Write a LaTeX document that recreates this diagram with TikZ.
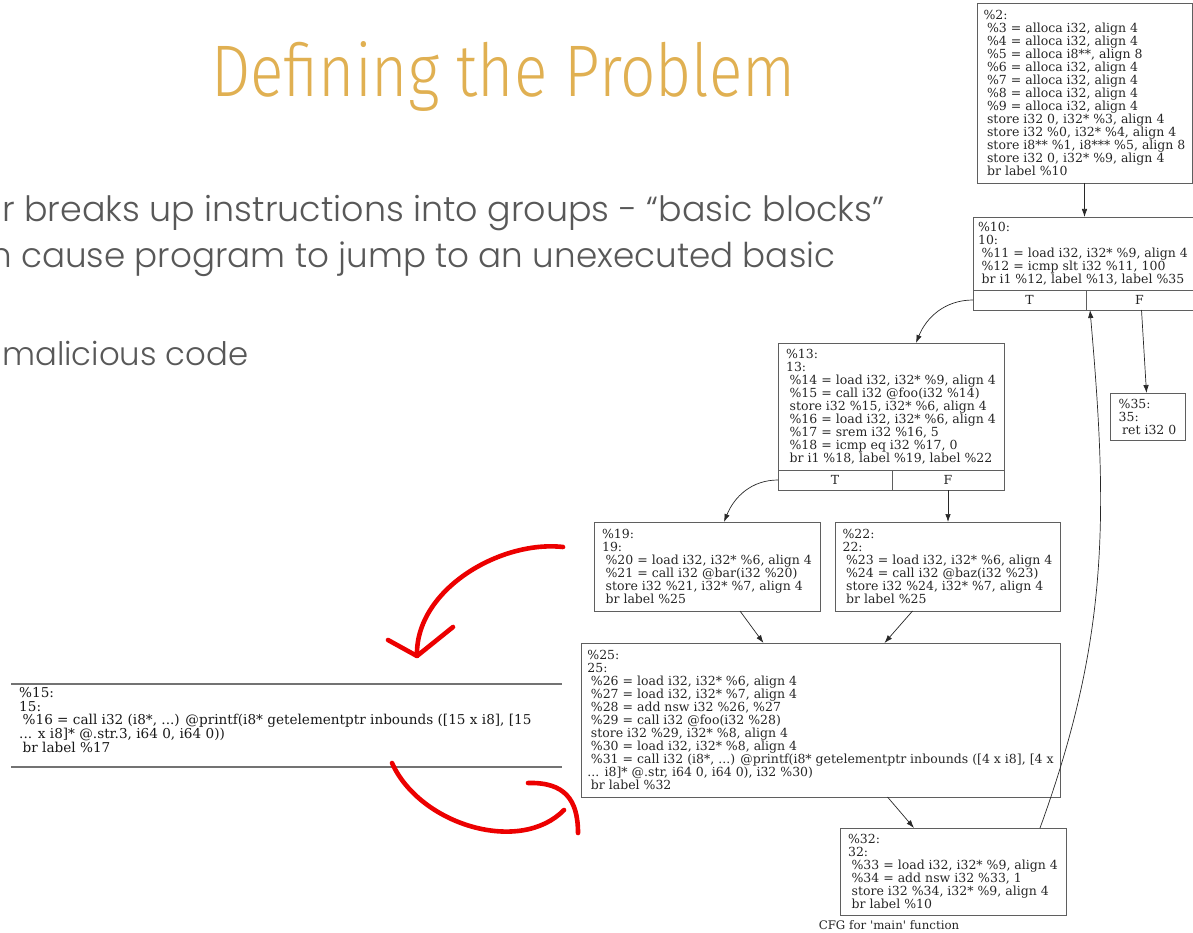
\documentclass[tikz,border=0pt]{standalone}
\usepackage{fontspec}
\usepackage{graphicx}
\usetikzlibrary{positioning,arrows.meta}

\setmainfont{DejaVu Serif}
\newfontfamily\cfgfont{DejaVu Serif}
\IfFontExistsTF{Fira Sans Light}{\newfontfamily\titlefont{Fira Sans Light}}{\newfontfamily\titlefont{Fira Sans}}
\IfFontExistsTF{Poppins Light}{\newfontfamily\slidefont{Poppins Light}}{\newfontfamily\slidefont{Poppins}}

\definecolor{titlegold}{RGB}{224,176,82}
\definecolor{slidegray}{RGB}{88,88,88}
\definecolor{boxgray}{RGB}{95,95,95}
\definecolor{edgegray}{RGB}{40,40,40}
\definecolor{markred}{RGB}{236,0,0}

\newcommand{\indt}{\hspace*{3.5pt}}

\tikzset{
  cfgblock/.style={draw=boxgray, line width=0.9pt, anchor=north west, align=left,
    font={\cfgfont\fontsize{12.5}{13}\selectfont}, text=black!85,
    inner xsep=3pt, inner ysep=3pt, outer sep=0pt},
  cfgcell/.style={draw=boxgray, line width=0.9pt, minimum height=20pt,
    font={\cfgfont\fontsize{12.5}{13}\selectfont}, text=black!85,
    inner sep=0pt, outer sep=0pt},
  cfgedge/.style={->, draw=edgegray, line width=0.7pt},
  slideline/.style={anchor=base west, inner sep=0pt, text=slidegray,
    font={\slidefont\fontsize{30}{36}\selectfont}},
  snippet/.style={anchor=north west, align=left, inner sep=0pt, text=black!90,
    font={\cfgfont\fontsize{13.6}{13.75}\selectfont}},
  snipline/.style={draw=black!55, line width=1.6pt},
  redmark/.style={draw=markred, line width=4.6pt, line cap=round, line join=round}
}

\begin{document}
\begin{tikzpicture}[x=1pt, y=-1pt, >={Latex[length=8pt,width=5.5pt]}]
\useasboundingbox (0,0) rectangle (1193,933);

\node[anchor=base west, inner sep=0pt, text=titlegold] (title) at (211,97)
  {\resizebox{584pt}{55pt}{\titlefont Defining the Problem}};
\node[slideline] (line1) at (2,222) {\resizebox{882pt}{!}{r breaks up instructions into groups - “basic blocks”}};
\node[slideline] (line2) at (-10,268) {\resizebox{845pt}{!}{n cause program to jump to an unexecuted basic}};
\node[slideline] (line3) at (2,365) {\resizebox{246pt}{!}{malicious code}};

\node[cfgblock, minimum width=215pt, minimum height=180pt] (b2) at (977,3)
  {\%2:\\
   \indt\%3 = alloca i32, align 4\\
   \indt\%4 = alloca i32, align 4\\
   \indt\%5 = alloca i8**, align 8\\
   \indt\%6 = alloca i32, align 4\\
   \indt\%7 = alloca i32, align 4\\
   \indt\%8 = alloca i32, align 4\\
   \indt\%9 = alloca i32, align 4\\
   \indt store i32 0, i32* \%3, align 4\\
   \indt store i32 \%0, i32* \%4, align 4\\
   \indt store i8** \%1, i8*** \%5, align 8\\
   \indt store i32 0, i32* \%9, align 4\\
   \indt br label \%10};

\node[cfgblock, minimum width=220pt, minimum height=73pt] (b10) at (973,217)
  {\%10:\\
   10:\\
   \indt\%11 = load i32, i32* \%9, align 4\\
   \indt\%12 = icmp slt i32 \%11, 100\\
   \indt br i1 \%12, label \%13, label \%35};
\node[cfgcell, minimum width=113pt] (t10) [below right=0pt of b10.south west] {T};
\node[cfgcell, minimum width=107pt] (f10) [right=0pt of t10] {F};

\node[cfgblock, minimum width=226pt, minimum height=127pt] (b13) at (778,343)
  {\%13:\\
   13:\\
   \indt\%14 = load i32, i32* \%9, align 4\\
   \indt\%15 = call i32 @foo(i32 \%14)\\
   \indt store i32 \%15, i32* \%6, align 4\\
   \indt\%16 = load i32, i32* \%6, align 4\\
   \indt\%17 = srem i32 \%16, 5\\
   \indt\%18 = icmp eq i32 \%17, 0\\
   \indt br i1 \%18, label \%19, label \%22};
\node[cfgcell, minimum width=114pt] (t13) [below right=0pt of b13.south west] {T};
\node[cfgcell, minimum width=112pt] (f13) [right=0pt of t13] {F};

\node[cfgblock, minimum width=75pt, minimum height=47pt] (b35) at (1110,393)
  {\%35:\\
   35:\\
   \indt ret i32 0};

\node[cfgblock, minimum width=226pt, minimum height=89pt] (b19) at (594,522)
  {\%19:\\
   19:\\
   \indt\%20 = load i32, i32* \%6, align 4\\
   \indt\%21 = call i32 @bar(i32 \%20)\\
   \indt store i32 \%21, i32* \%7, align 4\\
   \indt br label \%25};

\node[cfgblock, minimum width=225pt, minimum height=89pt] (b22) at (835,522)
  {\%22:\\
   22:\\
   \indt\%23 = load i32, i32* \%6, align 4\\
   \indt\%24 = call i32 @baz(i32 \%23)\\
   \indt store i32 \%24, i32* \%7, align 4\\
   \indt br label \%25};

\node[cfgblock, minimum width=479pt, minimum height=154pt] (b25) at (581,643)
  {\%25:\\
   25:\\
   \indt\%26 = load i32, i32* \%6, align 4\\
   \indt\%27 = load i32, i32* \%7, align 4\\
   \indt\%28 = add nsw i32 \%26, \%27\\
   \indt\%29 = call i32 @foo(i32 \%28)\\
   \indt store i32 \%29, i32* \%8, align 4\\
   \indt\%30 = load i32, i32* \%8, align 4\\
   \indt\%31 = call i32 (i8*, ...) @printf(i8* getelementptr inbounds ([4 x i8], [4 x\\
   ... i8]* @.str, i64 0, i64 0), i32 \%30)\\
   \indt br label \%32};

\node[cfgblock, minimum width=226pt, minimum height=87pt] (b32) at (840,828)
  {\%32:\\
   32:\\
   \indt\%33 = load i32, i32* \%9, align 4\\
   \indt\%34 = add nsw i32 \%33, 1\\
   \indt store i32 \%34, i32* \%9, align 4\\
   \indt br label \%10};

\node[anchor=base, inner sep=0pt, font={\cfgfont\fontsize{11.8}{13}\selectfont}, text=black!85] (caption) at (889,929)
  {CFG for \textquotesingle main\textquotesingle{} function};

\draw[cfgedge] (b2.south) -- (b2.south |- b10.north);
\draw[cfgedge] (t10.west) to[out=180, in=68] ([xshift=25pt]b13.north);
\draw[cfgedge] ([xshift=2pt]f10.south) -- ([xshift=-1pt]b35.north);
\draw[cfgedge] (t13.west) to[out=180, in=68] ([xshift=17pt]b19.north);
\draw[cfgedge] (f13.south) -- (f13.south |- b22.north);
\draw[cfgedge] ([xshift=33pt]b19.south) -- ([xshift=-57pt]b25.north);
\draw[cfgedge] ([xshift=-35pt]b22.south) -- ([xshift=64pt]b25.north);
\draw[cfgedge] ([xshift=67pt]b25.south) -- ([xshift=-39pt]b32.north);
\draw[cfgedge] ([xshift=-26pt]b32.north east) to[out=70, in=-85] ([xshift=4pt]t10.south east);

\node[snippet] (b15) at (19,687)
  {\%15:\\
   15:\\
   \indt\%16 = call i32 (i8*, ...) @printf(i8* getelementptr inbounds ([15 x i8], [15\\
   ... x i8]* @.str.3, i64 0, i64 0))\\
   \indt br label \%17};
\draw[snipline] (11,684) -- (562,684);
\draw[snipline] (11,767) -- (562,767);

\draw[redmark] (563,547) .. controls (500,540) and (415,590) .. (417,656);
\draw[redmark] (388,640) -- (417,656) -- (453,627);
\draw[redmark] (392,763) .. controls (420,825) and (520,855) .. (564,810);
\draw[redmark] (528,783) .. controls (565,782) and (578,800) .. (578,833);
\end{tikzpicture}
\end{document}
